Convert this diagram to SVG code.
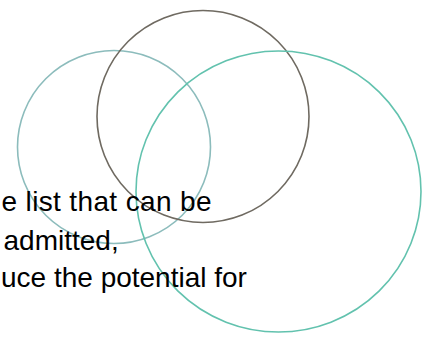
<svg xmlns="http://www.w3.org/2000/svg" width="425" height="338" viewBox="0 0 425 338">
  <style>
    .ring { fill: none; stroke-width: 1.6; }
    .txt { font-family: "Liberation Sans", Arial, sans-serif; font-size: 28px; fill: #000; }
  </style>
  <rect width="425" height="338" fill="#ffffff"/>
  <g id="circle-left">
    <circle class="ring" cx="114" cy="147" r="96.5" stroke="#8cbcbc"/>
  </g>
  <g id="circle-top">
    <circle class="ring" cx="203" cy="116.5" r="106" stroke="#6f6a61"/>
  </g>
  <g id="circle-right">
    <ellipse class="ring" cx="278.5" cy="191.5" rx="142.5" ry="140.5" stroke="#62c2ae"/>
  </g>
  <g id="text">
    <text class="txt" x="1.5" y="211" textLength="210" lengthAdjust="spacing">e list that can be</text>
    <text class="txt" x="3.5" y="250">admitted,</text>
    <text class="txt" x="1" y="287">uce the potential for</text>
  </g>
</svg>
